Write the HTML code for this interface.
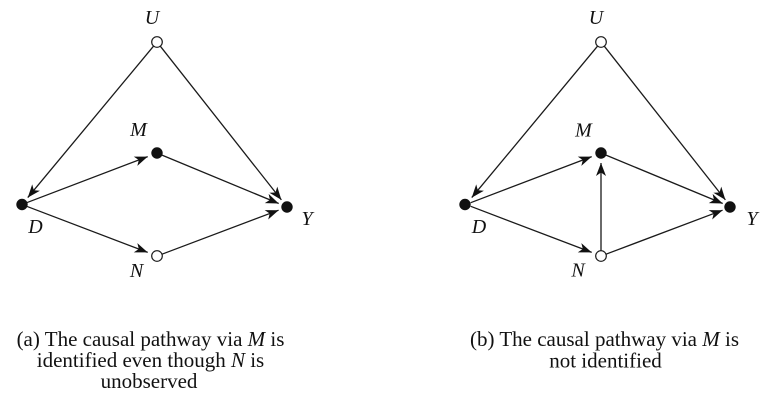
<!DOCTYPE html>
<html>
<head>
<meta charset="utf-8">
<style>
  html, body { margin: 0; padding: 0; background: #fff; }
  svg { display: block; }
  .lbl { font-family: "Liberation Serif", serif; font-style: italic; font-size: 20px; fill: #111; }
  .cap { font-family: "Liberation Serif", serif; font-size: 21px; fill: #111; }
  line { stroke: #1a1a1a; stroke-width: 1.3; }
  .ah { fill: #111; }
  .open { fill: #fff; stroke: #1a1a1a; stroke-width: 1.2; }
  .fill { fill: #111; }
</style>
</head>
<body>
<svg width="775" height="409" viewBox="0 0 775 409" xmlns="http://www.w3.org/2000/svg">
  <defs>
    <path id="ahd" class="ah" d="M0,0 L-13,-5 L-9.5,0 L-13,5 Z"/>
    <g id="base">
      <!-- edges -->
      <line x1="153.5" y1="46.2" x2="27.75" y2="197.6"/>
      <line x1="160.4" y1="46.3" x2="281.4" y2="199.9"/>
      <line x1="26.7" y1="202.7" x2="147.7" y2="156.6"/>
      <line x1="26.7" y1="206.3" x2="147.7" y2="252.4"/>
      <line x1="162" y1="155.1" x2="278.7" y2="203.5"/>
      <line x1="162" y1="254.2" x2="278.6" y2="210.2"/>
      <!-- arrowheads -->
      <use href="#ahd" transform="translate(27.75,197.6) rotate(129.7)"/>
      <use href="#ahd" transform="translate(281.4,199.9) rotate(51.7)"/>
      <use href="#ahd" transform="translate(147.7,156.6) rotate(-20.9)"/>
      <use href="#ahd" transform="translate(147.7,252.4) rotate(20.9)"/>
      <use href="#ahd" transform="translate(278.7,203.5) rotate(22.6)"/>
      <use href="#ahd" transform="translate(278.6,210.2) rotate(-20.7)"/>
    </g>
  </defs>

  <!-- Left diagram (a) -->
  <use href="#base"/>
  <circle class="open" cx="157" cy="42" r="5.3"/>
  <circle class="fill" cx="157" cy="153" r="5.7"/>
  <circle class="fill" cx="22" cy="204.5" r="5.7"/>
  <circle class="fill" cx="287" cy="207" r="5.7"/>
  <circle class="open" cx="157" cy="256" r="5.3"/>
  <text class="lbl" x="152" y="24" text-anchor="middle">U</text>
  <text class="lbl" x="138.5" y="136" text-anchor="middle">M</text>
  <text class="lbl" x="35.5" y="233" text-anchor="middle">D</text>
  <text class="lbl" x="307" y="225" text-anchor="middle">Y</text>
  <text class="lbl" x="136.5" y="277" text-anchor="middle">N</text>

  <!-- Right diagram (b) -->
  <g transform="translate(444,0)">
    <use href="#base"/>
    <line x1="157" y1="250.7" x2="157" y2="163"/>
    <use href="#ahd" transform="translate(157,163) rotate(-90)"/>
    <circle class="open" cx="157" cy="42" r="5.3"/>
    <circle class="fill" cx="157" cy="153" r="5.7"/>
    <circle class="fill" cx="21" cy="204.5" r="5.7"/>
    <circle class="fill" cx="286" cy="207" r="5.7"/>
    <circle class="open" cx="157" cy="256" r="5.3"/>
  </g>
  <text class="lbl" x="596" y="24" text-anchor="middle">U</text>
  <text class="lbl" x="583.5" y="136.5" text-anchor="middle">M</text>
  <text class="lbl" x="479" y="233" text-anchor="middle">D</text>
  <text class="lbl" x="752" y="225" text-anchor="middle">Y</text>
  <text class="lbl" x="578" y="276.5" text-anchor="middle">N</text>

  <!-- Captions -->
  <text class="cap" x="150.5" y="346" text-anchor="middle">(a) The causal pathway via <tspan font-style="italic">M</tspan> is</text>
  <text class="cap" x="150.5" y="367" text-anchor="middle">identified even though <tspan font-style="italic">N</tspan> is</text>
  <text class="cap" x="149" y="388" text-anchor="middle">unobserved</text>

  <text class="cap" x="604.5" y="346" text-anchor="middle">(b) The causal pathway via <tspan font-style="italic">M</tspan> is</text>
  <text class="cap" x="605.5" y="367.5" text-anchor="middle">not identified</text>
</svg>
</body>
</html>
